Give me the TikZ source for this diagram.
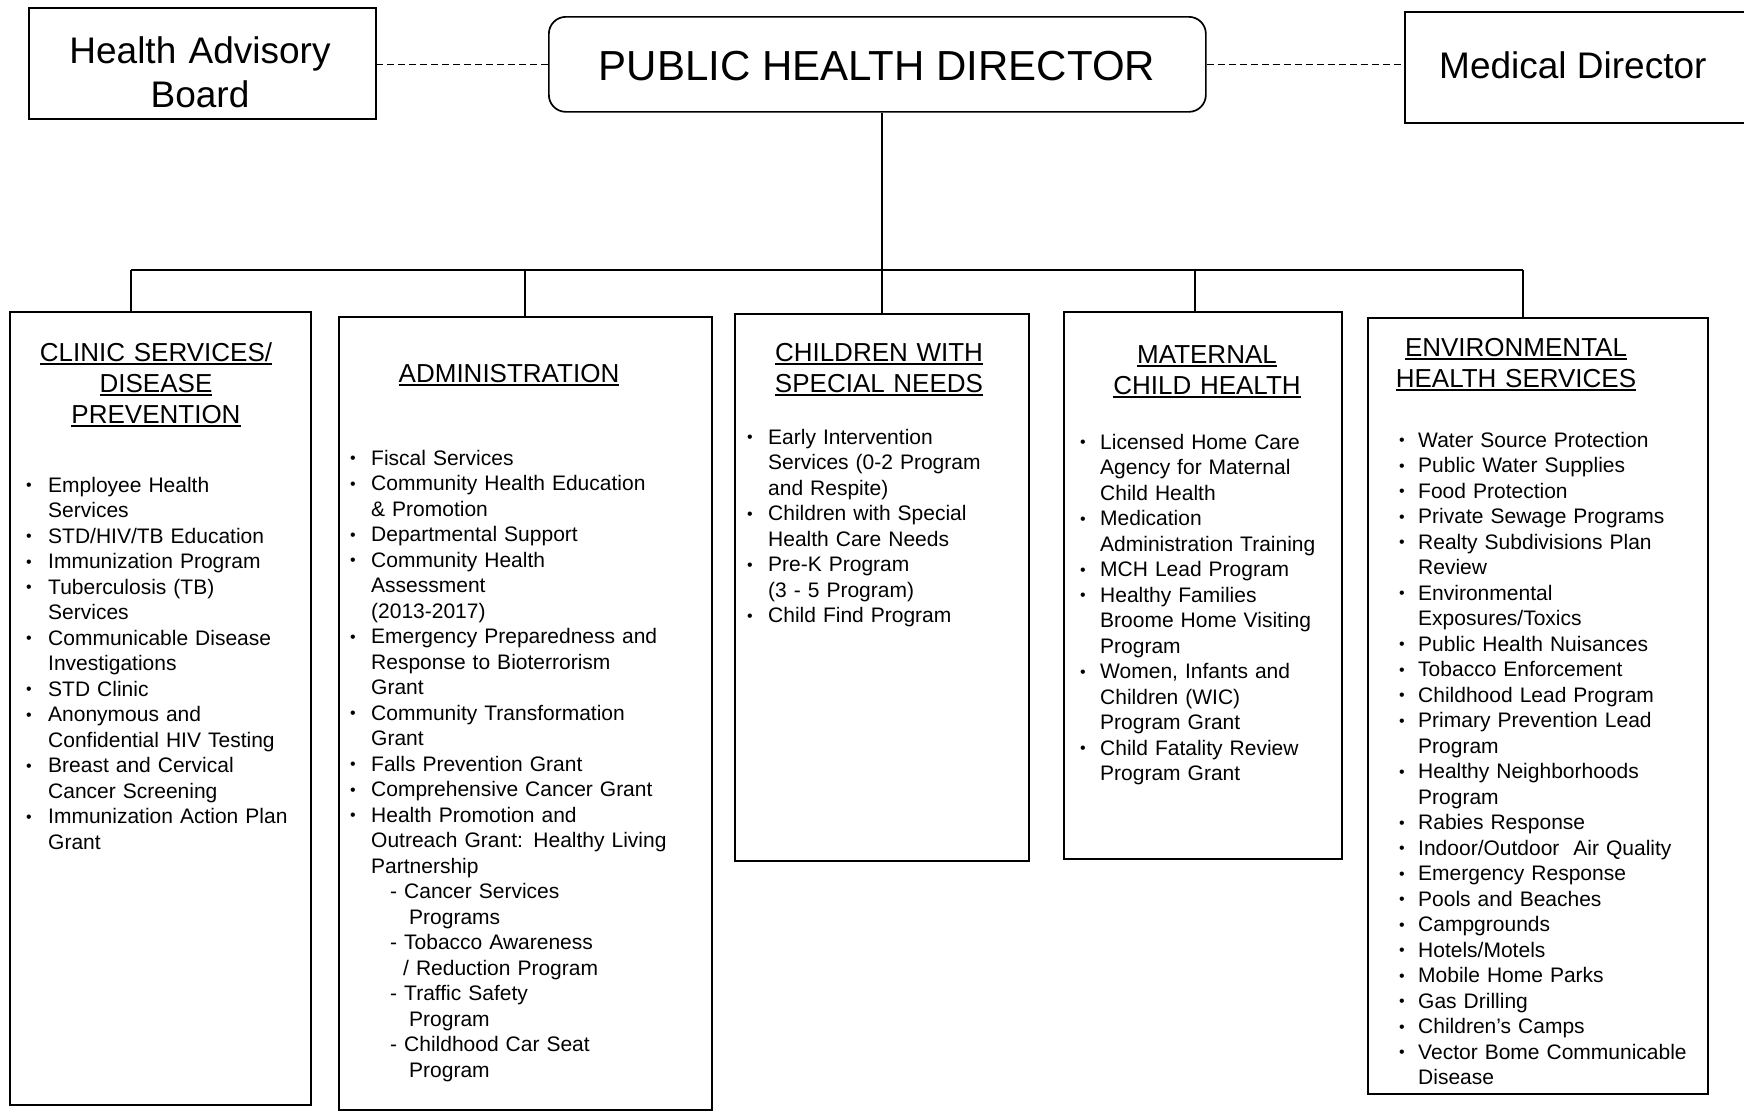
\documentclass[tikz,border=0pt]{standalone}
\usepackage{fontspec}
\setmainfont{Liberation Sans}
\newcommand\bw{22pt}
\newcommand\bi{\makebox[\bw][l]{\raisebox{1.5pt}{\fontsize{16}{16}\selectfont •}}}
\newcommand\ci{\hspace*{\bw}}
\newcommand\ul[1]{\leavevmode\setbox0=\hbox{#1}\rlap{\rule[-3.5pt]{\wd0}{1.8pt}}\box0}
\begin{document}
\begin{tikzpicture}[x=1pt,y=-1pt,
  box/.style={draw, line width=1.7pt, inner sep=0pt, anchor=north west},
  conn/.style={line width=1.5pt},
  dconn/.style={line width=1.4pt, dash pattern=on 7pt off 4pt},
  body/.style={font=\fontsize{21}{25.5}\selectfont, text width=330pt, align=left, inner sep=0pt, anchor=base west},
  head/.style={font=\fontsize{26}{31}\selectfont, text width=300pt, align=center, inner sep=0pt, anchor=base},
  toptext/.style={font=\fontsize{37}{44}\selectfont, text width=340pt, align=center, inner sep=0pt, anchor=base}]
\clip (0,0) rectangle (1744,1111);
\fill[white] (0,0) rectangle (1744,1111);

% top row
\node[box, minimum width=347pt, minimum height=111pt] (hab) at (28,7) {};
\node[box, rounded corners=17pt, minimum width=657pt, minimum height=95pt] (phd) at (548,16) {};
\node[box, minimum width=400pt, minimum height=111pt] (md) at (1404,11) {};
\node[toptext] (habT) at (200,63) {Health Advisory\\Board};
\node[font=\fontsize{42}{48}\selectfont, inner sep=0pt, anchor=base] (phdT) at (877,80) {PUBLIC HEALTH DIRECTOR};
\node[font=\fontsize{37}{44}\selectfont, inner sep=0pt, anchor=base west] (mdT) at (1439,78) {Medical Director};

% department boxes
\node[box, minimum width=301pt, minimum height=793pt] (clinic) at (9,311) {};
\node[box, minimum width=373pt, minimum height=793pt] (admin) at (338,316) {};
\node[box, minimum width=294pt, minimum height=547pt] (cwsn) at (734,313) {};
\node[box, minimum width=278pt, minimum height=547pt] (mch) at (1063,311) {};
\node[box, minimum width=340pt, minimum height=776pt] (env) at (1367,317) {};

% connectors
\draw[dconn] (phd.west) -- (phd.west -| hab.east);
\draw[dconn] (phd.east) -- (phd.east -| md.west);
\coordinate (busL) at (131,270);
\coordinate (busA) at (525,270);
\coordinate (busM) at (1195,270);
\coordinate (busR) at (1523,270);
\draw[conn] (busL) -- (busR);
\draw[conn] (phd.south -| cwsn.north) -- (cwsn.north);
\draw[conn] (busL) -- (busL |- clinic.north);
\draw[conn] (busA) -- (busA |- admin.north);
\draw[conn] (busM) -- (busM |- mch.north);
\draw[conn] (busR) -- (busR |- env.north);

% titles
\node[head] (clinicT) at (156,361) {\ul{CLINIC SERVICES/}\\\ul{DISEASE}\\\ul{PREVENTION}};
\node[head] (adminT) at (509,382) {\ul{ADMINISTRATION}};
\node[head] (cwsnT) at (879,361) {\ul{CHILDREN WITH}\\\ul{SPECIAL NEEDS}};
\node[head] (mchT) at (1207,363) {\ul{MATERNAL}\\\ul{CHILD HEALTH}};
\node[head] (envT) at (1516,356) {\ul{ENVIRONMENTAL}\\\ul{HEALTH SERVICES}};

% lists
\renewcommand\bw{22pt}
\node[body] (clinicL) at (26,492) {\bi Employee Health\\ \ci Services\\ \bi STD/HIV/TB Education\\ \bi Immunization Program\\ \bi Tuberculosis (TB)\\ \ci Services\\ \bi Communicable Disease\\ \ci Investigations\\ \bi STD Clinic\\ \bi Anonymous and\\ \ci Confidential HIV Testing\\ \bi Breast and Cervical\\ \ci Cancer Screening\\ \bi Immunization Action Plan\\ \ci Grant};

\renewcommand\bw{21pt}
\node[body] (adminL) at (350,465) {\bi Fiscal Services\\ \bi Community Health Education\\ \ci \& Promotion\\ \bi Departmental Support\\ \bi Community Health\\ \ci Assessment\\ \ci (2013-2017)\\ \bi Emergency Preparedness and\\ \ci Response to Bioterrorism\\ \ci Grant\\ \bi Community Transformation\\ \ci Grant\\ \bi Falls Prevention Grant\\ \bi Comprehensive Cancer Grant\\ \bi Health Promotion and\\ \ci Outreach Grant: Healthy Living\\ \ci Partnership\\ \hspace*{40pt}- Cancer Services\\ \hspace*{59pt}Programs\\ \hspace*{40pt}- Tobacco Awareness\\ \hspace*{53pt}/ Reduction Program\\ \hspace*{40pt}- Traffic Safety\\ \hspace*{59pt}Program\\ \hspace*{40pt}- Childhood Car Seat\\ \hspace*{59pt}Program};

\node[body] (cwsnL) at (747,444) {\bi Early Intervention\\ \ci Services (0-2 Program\\ \ci and Respite)\\ \bi Children with Special\\ \ci Health Care Needs\\ \bi Pre-K Program\\ \ci (3 - 5 Program)\\ \bi Child Find Program};

\renewcommand\bw{20pt}
\node[body] (mchL) at (1080,449) {\bi Licensed Home Care\\ \ci Agency for Maternal\\ \ci Child Health\\ \bi Medication\\ \ci Administration Training\\ \bi MCH Lead Program\\ \bi Healthy Families\\ \ci Broome Home Visiting\\ \ci Program\\ \bi Women, Infants and\\ \ci Children (WIC)\\ \ci Program Grant\\ \bi Child Fatality Review\\ \ci Program Grant};

\renewcommand\bw{19pt}
\node[body] (envL) at (1399,447) {\bi Water Source Protection\\ \bi Public Water Supplies\\ \bi Food Protection\\ \bi Private Sewage Programs\\ \bi Realty Subdivisions Plan\\ \ci Review\\ \bi Environmental\\ \ci Exposures/Toxics\\ \bi Public Health Nuisances\\ \bi Tobacco Enforcement\\ \bi Childhood Lead Program\\ \bi Primary Prevention Lead\\ \ci Program\\ \bi Healthy Neighborhoods\\ \ci Program\\ \bi Rabies Response\\ \bi Indoor/Outdoor\ \ Air Quality\\ \bi Emergency Response\\ \bi Pools and Beaches\\ \bi Campgrounds\\ \bi Hotels/Motels\\ \bi Mobile Home Parks\\ \bi Gas Drilling\\ \bi Children’s Camps\\ \bi Vector Bome Communicable\\ \ci Disease};
\end{tikzpicture}
\end{document}
